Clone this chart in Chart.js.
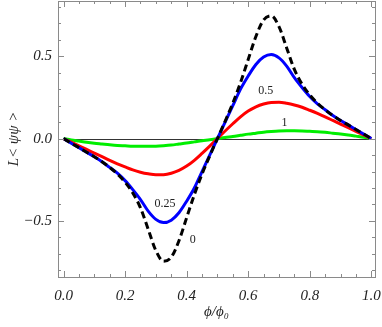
<!DOCTYPE html>
<html>
<head>
<meta charset="utf-8">
<script src="https://cdn.jsdelivr.net/npm/chart.js@4"></script>
<style>
  html, body { margin: 0; padding: 0; background: #fff; }
  #wrap { width: 382px; height: 327px; }
</style>
</head>
<body>
<div id="wrap"><canvas id="chart"></canvas></div>
<script>
const xValues = [0, 0.025, 0.05, 0.075, 0.1, 0.125, 0.15, 0.175, 0.2, 0.225, 0.25, 0.275, 0.3, 0.325, 0.35, 0.375, 0.4, 0.425, 0.45, 0.475,
  0.5, 0.525, 0.55, 0.575, 0.6, 0.625, 0.65, 0.675, 0.7, 0.725, 0.75, 0.775, 0.8, 0.825, 0.85, 0.875, 0.9, 0.925, 0.95, 0.975, 1];

const curveT0 = [0, -0.028, -0.055, -0.083, -0.11, -0.14, -0.175, -0.215, -0.265, -0.33, -0.42, -0.55, -0.68, -0.745, -0.72, -0.62, -0.48, -0.34, -0.215, -0.105,
  0, 0.105, 0.215, 0.34, 0.48, 0.62, 0.72, 0.745, 0.68, 0.55, 0.42, 0.33, 0.265, 0.215, 0.175, 0.14, 0.11, 0.083, 0.055, 0.028, 0];
const curveT025 = [0, -0.028, -0.055, -0.083, -0.11, -0.14, -0.175, -0.21, -0.255, -0.31, -0.37, -0.44, -0.49, -0.51, -0.495, -0.45, -0.38, -0.3, -0.2, -0.1,
  0, 0.1, 0.2, 0.3, 0.38, 0.45, 0.495, 0.51, 0.49, 0.44, 0.37, 0.31, 0.255, 0.21, 0.175, 0.14, 0.11, 0.083, 0.055, 0.028, 0];
const curveT05 = [0, -0.022, -0.044, -0.066, -0.088, -0.11, -0.132, -0.153, -0.172, -0.19, -0.204, -0.214, -0.22, -0.219, -0.21, -0.193, -0.167, -0.132, -0.09, -0.046,
  0, 0.046, 0.09, 0.132, 0.167, 0.193, 0.21, 0.219, 0.22, 0.214, 0.204, 0.19, 0.172, 0.153, 0.132, 0.11, 0.088, 0.066, 0.044, 0.022, 0];
const curveT1 = [0, -0.008, -0.015, -0.022, -0.028, -0.033, -0.038, -0.042, -0.044, -0.046, -0.047, -0.047, -0.046, -0.043, -0.039, -0.033, -0.027, -0.02, -0.013, -0.007,
  0, 0.007, 0.013, 0.02, 0.027, 0.033, 0.039, 0.043, 0.046, 0.047, 0.047, 0.046, 0.044, 0.042, 0.038, 0.033, 0.028, 0.022, 0.015, 0.008, 0];

const curveNames = ['0', '0.25', '0.5', '1'];

const xMajorTicks = [0, 0.2, 0.4, 0.6, 0.8, 1.0];
const xMinorTicks = [0.05, 0.1, 0.15, 0.25, 0.3, 0.35, 0.45, 0.5, 0.55, 0.65, 0.7, 0.75, 0.85, 0.9, 0.95];
const yMajorTicks = [-0.5, 0, 0.5];
const yMinorTicks = [-0.8, -0.7, -0.6, -0.4, -0.3, -0.2, -0.1, 0.1, 0.2, 0.3, 0.4, 0.6, 0.7, 0.8];

// in-plot curve labels (data coords)
const curveLabels = [
  { text: '0.5', x: 0.657, y: 0.287 },
  { text: '1', x: 0.718, y: 0.098 },
  { text: '0.25', x: 0.33, y: -0.396 },
  { text: '0', x: 0.42, y: -0.616 }
];

const pts = (ys) => xValues.map((x, i) => ({ x, y: ys[i] }));

const serif = '"Liberation Serif", "DejaVu Serif", serif';

const framePlugin = {
  id: 'frame',
  beforeDatasetsDraw(chart) {
    const { ctx, chartArea: a, scales: { y } } = chart;
    ctx.save();
    ctx.strokeStyle = '#000';
    ctx.lineWidth = 0.8;
    const y0 = Math.round(y.getPixelForValue(0)) + 0.5;
    ctx.beginPath();
    ctx.moveTo(a.left, y0);
    ctx.lineTo(a.right, y0);
    ctx.stroke();
    ctx.restore();
  },
  afterDraw(chart) {
    const { ctx, chartArea: a, scales: { x, y } } = chart;
    ctx.save();
    ctx.strokeStyle = '#8a8a8a';
    ctx.lineWidth = 1;
    ctx.strokeRect(Math.round(a.left) + 0.5, Math.round(a.top) + 0.5,
      Math.round(a.right - a.left), Math.round(a.bottom - a.top));

    const vTick = (v, len) => {
      const px = Math.round(x.getPixelForValue(v)) + 0.5;
      ctx.beginPath();
      ctx.moveTo(px, a.bottom); ctx.lineTo(px, a.bottom - len);
      ctx.moveTo(px, a.top); ctx.lineTo(px, a.top + len);
      ctx.stroke();
    };
    const hTick = (v, len) => {
      const py = Math.round(y.getPixelForValue(v)) + 0.5;
      ctx.beginPath();
      ctx.moveTo(a.left, py); ctx.lineTo(a.left + len, py);
      ctx.moveTo(a.right, py); ctx.lineTo(a.right - len, py);
      ctx.stroke();
    };
    xMajorTicks.forEach(v => vTick(v, 6));
    xMinorTicks.forEach(v => vTick(v, 3));
    yMajorTicks.forEach(v => hTick(v, 6));
    yMinorTicks.forEach(v => hTick(v, 3));

    ctx.fillStyle = '#222';
    ctx.font = '12px ' + serif;
    ctx.textAlign = 'center';
    ctx.textBaseline = 'middle';
    curveLabels.forEach(l => {
      ctx.fillText(l.text, x.getPixelForValue(l.x), y.getPixelForValue(l.y));
    });
    ctx.restore();
  }
};

new Chart(document.getElementById('chart'), {
  type: 'line',
  data: {
    datasets: [
      { label: curveNames[0], data: pts(curveT0), borderColor: '#000', borderWidth: 3, borderDash: [7, 4] },
      { label: curveNames[1], data: pts(curveT025), borderColor: '#0000ff', borderWidth: 3 },
      { label: curveNames[2], data: pts(curveT05), borderColor: '#ff0000', borderWidth: 3 },
      { label: curveNames[3], data: pts(curveT1), borderColor: '#00ee00', borderWidth: 3 }
    ]
  },
  options: {
    responsive: true,
    maintainAspectRatio: false,
    animation: false,
    elements: { point: { radius: 0 }, line: { tension: 0.4, cubicInterpolationMode: 'monotone' } },
    layout: { padding: { top: 1, right: 7, left: 0, bottom: 0 } },
    plugins: { legend: { display: false }, tooltip: { enabled: false } },
    scales: {
      x: {
        type: 'linear',
        min: -0.018,
        max: 1.012,
        grid: { display: false, drawTicks: false },
        border: { display: false },
        afterFit: (s) => { s.height = 50; s.paddingLeft = 0; s.paddingRight = 0; },
        ticks: {
          stepSize: 0.2,
          includeBounds: false,
          padding: 10,
          maxRotation: 0,
          color: '#222',
          font: { family: serif, size: 15, style: 'italic' },
          callback: (v) => v.toFixed(1)
        },
        title: {
          display: true,
          text: 'ϕ/ϕ₀',
          color: '#222',
          font: { family: serif, size: 15, style: 'italic' },
          padding: { top: 0, bottom: 6 }
        }
      },
      y: {
        type: 'linear',
        min: -0.84,
        max: 0.835,
        grid: { display: false, drawTicks: false },
        border: { display: false },
        afterFit: (s) => { s.width = 58; s.paddingTop = 0; s.paddingBottom = 0; },
        ticks: {
          stepSize: 0.5,
          includeBounds: false,
          padding: 6,
          color: '#222',
          font: { family: serif, size: 15, style: 'italic' },
          callback: (v) => (v < 0 ? '\u2212' : '') + Math.abs(v).toFixed(1)
        },
        title: {
          display: true,
          text: 'L< ψψ >',
          color: '#222',
          font: { family: serif, size: 15, style: 'italic' },
          padding: { top: 5, bottom: 0 }
        }
      }
    }
  },
  plugins: [framePlugin]
});
</script>
</body>
</html>
